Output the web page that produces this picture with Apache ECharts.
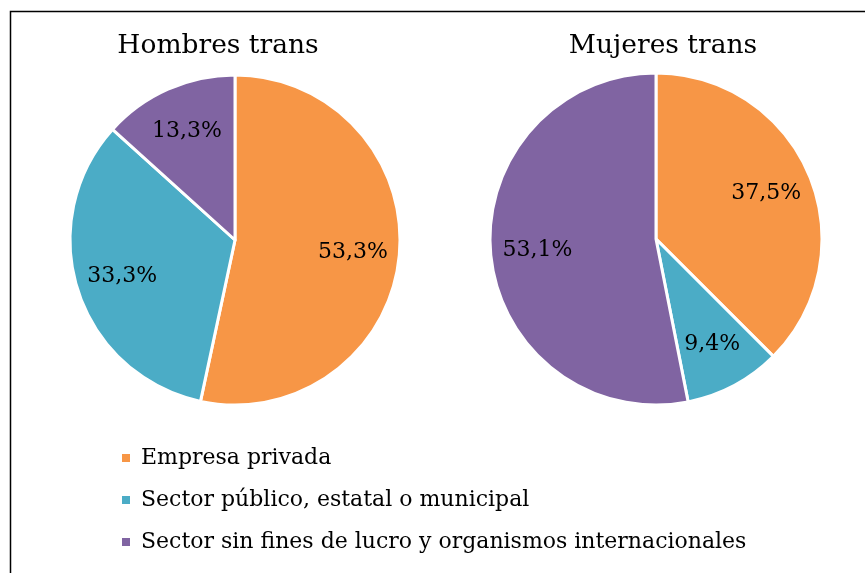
<!DOCTYPE html>
<html>
<head>
<meta charset="utf-8">
<script src="https://cdn.jsdelivr.net/npm/echarts@6/dist/echarts.min.js"></script>
<style>
  html, body { margin: 0; padding: 0; background: #fff; }
  #main { width: 865px; height: 573px; }
</style>
</head>
<body>
<div id="main"></div>
<script>
// categorias y porcentajes
var categorias = ['Empresa privada', 'Sector público, estatal o municipal', 'Sector sin fines de lucro y organismos internacionales'];
var hombresTrans = [53.3, 33.3, 13.3];
var mujeresTrans = [37.5, 9.4, 53.1];
var titulos = ['Hombres trans', 'Mujeres trans'];
var colores = ['#F79646', '#4BACC6', '#8064A2'];

var fuente = 'DejaVu Serif';

function datos(valores) {
    return categorias.map(function (c, i) {
        return { name: c, value: valores[i] };
    });
}

function fmt(p) {
    return p.value.toFixed(1).replace('.', ',') + '%';
}

// pie visible + pie transparente solo para poner las etiquetas a ~0.7 del radio
function tortas(valores, centro, radio) {
    return [
        {
            type: 'pie',
            center: centro,
            radius: radio,
            startAngle: 90,
            clockwise: true,
            silent: true,
            data: datos(valores),
            label: { show: false },
            labelLine: { show: false },
            itemStyle: { borderColor: '#fff', borderWidth: 3 }
        },
        {
            type: 'pie',
            center: centro,
            radius: [radio * 0.4, radio],
            startAngle: 90,
            clockwise: true,
            silent: true,
            data: datos(valores),
            itemStyle: { color: 'transparent', borderWidth: 0 },
            labelLine: { show: false },
            label: {
                show: true,
                position: 'inside',
                formatter: fmt,
                color: '#000',
                fontFamily: fuente,
                fontSize: 22
            }
        }
    ];
}

var myChart = echarts.init(document.getElementById('main'));
option = {
    animation: false,
    color: colores,
    title: [
        { text: titulos[0], left: 213, top: 28, textAlign: 'center',
          textStyle: { fontFamily: fuente, fontWeight: 'normal', fontSize: 26.5, color: '#000' } },
        { text: titulos[1], left: 658, top: 28, textAlign: 'center',
          textStyle: { fontFamily: fuente, fontWeight: 'normal', fontSize: 26.5, color: '#000' } }
    ],
    legend: {
        orient: 'vertical',
        left: 120,
        top: 443,
        padding: 0,
        itemWidth: 10,
        itemHeight: 10,
        itemGap: 12,
        icon: 'rect',
        data: categorias,
        textStyle: { fontFamily: fuente, fontSize: 22, color: '#000', lineHeight: 30, padding: [0, 0, 0, 5] }
    },
    graphic: [{
        type: 'rect',
        shape: { x: 10.5, y: 11.5, width: 900, height: 700 },
        style: { fill: 'none', stroke: '#000', lineWidth: 1.5 },
        silent: true
    }],
    series: [].concat(
        tortas(hombresTrans, [235, 240], 165),
        tortas(mujeresTrans, [656, 239], 166)
    )
};
myChart.setOption(option);
</script>
</body>
</html>
